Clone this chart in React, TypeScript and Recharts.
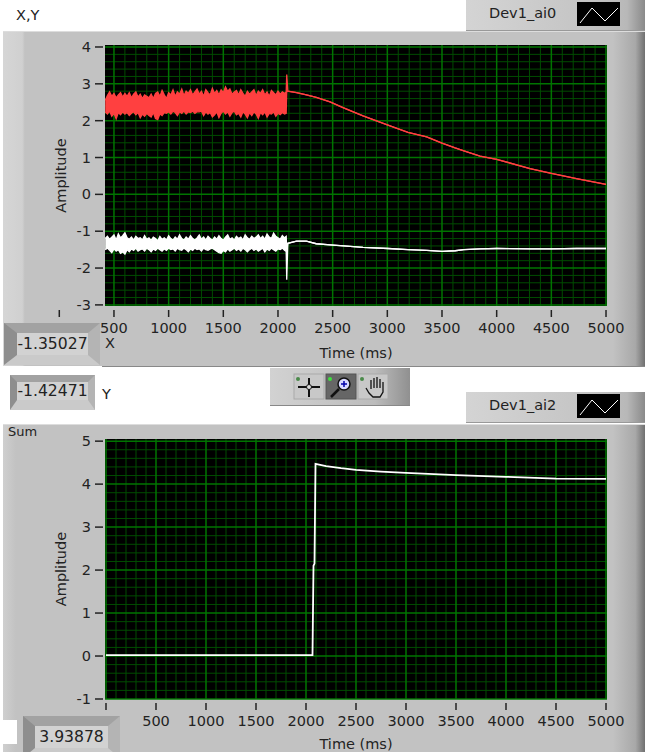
import React from "react";
import {
  ComposedChart,
  Area,
  Line,
  XAxis,
  YAxis,
  CartesianGrid,
} from "recharts";

const FONT = "'DejaVu Sans', sans-serif";
const PANEL = "#c2c2c2";

// top graph (X,Y)
const noiseTimes = [
  420, 440, 460, 480, 500, 520, 540, 560, 580, 600,
  620, 640, 660, 680, 700, 720, 740, 760, 780, 800,
  820, 840, 860, 880, 900, 920, 940, 960, 980, 1000,
  1020, 1040, 1060, 1080, 1100, 1120, 1140, 1160, 1180, 1200,
  1220, 1240, 1260, 1280, 1300, 1320, 1340, 1360, 1380, 1400,
  1420, 1440, 1460, 1480, 1500, 1520, 1540, 1560, 1580, 1600,
  1620, 1640, 1660, 1680, 1700, 1720, 1740, 1760, 1780, 1800,
  1820, 1840, 1860, 1880, 1900, 1920, 1940, 1960, 1980, 2000,
  2020, 2040, 2060,
];
const tailTimes = [
  2075, 2080, 2090, 2170, 2260, 2350, 2476, 2600, 2778, 3006, 3189,
  3360, 3500, 3620, 3700, 3848, 4000, 4305, 4500, 4730, 5000,
];
const redHigh = [
  2.55, 2.68, 2.78, 2.66, 2.74, 2.62, 2.7, 2.76, 2.64, 2.74,
  2.66, 2.76, 2.62, 2.72, 2.78, 2.64, 2.72, 2.6, 2.7, 2.66,
  2.62, 2.72, 2.6, 2.74, 2.78, 2.66, 2.82, 2.7, 2.6, 2.76,
  2.7, 2.84, 2.66, 2.78, 2.72, 2.86, 2.68, 2.8, 2.74, 2.84,
  2.7, 2.78, 2.86, 2.72, 2.8, 2.66, 2.84, 2.76, 2.7, 2.88,
  2.74, 2.82, 2.7, 2.84, 2.76, 2.92, 2.8, 2.86, 2.72, 2.78,
  2.82, 2.7, 2.84, 2.74, 2.66, 2.8, 2.72, 2.78, 2.84, 2.68,
  2.8, 2.74, 2.84, 2.7, 2.78, 2.66, 2.82, 2.76, 2.7, 2.8,
  2.72, 2.78, 2.74,
  2.78, 3.25, 2.8, 2.76, 2.7, 2.63, 2.51, 2.35, 2.13, 1.88, 1.68,
  1.56, 1.39, 1.26, 1.18, 1.04, 0.95, 0.7, 0.57, 0.43, 0.27,
];
const redLow = [
  2.24, 2.18, 2.26, 2.12, 2.2, 2.05, 2.22, 2.16, 2.24, 2.18,
  2.22, 2.14, 2.2, 2.24, 2.16, 2.22, 2.08, 2.18, 2.12, 2.2,
  2.14, 2.1, 2.22, 2.06, 2.03, 2.18, 2.14, 2.22, 2.2, 2.24,
  2.18, 2.26, 2.22, 2.14, 2.24, 2.2, 2.26, 2.18, 2.24, 2.22,
  2.26, 2.2, 2.24, 2.24, 2.26, 2.14, 2.24, 2.18, 2.22, 2.1,
  2.16, 2.24, 2.08, 2.2, 2.26, 2.18, 2.24, 2.12, 2.22, 2.26,
  2.16, 2.2, 2.1, 2.24, 2.18, 2.08, 2.22, 2.14, 2.24, 2.18,
  2.06, 2.22, 2.16, 2.24, 2.1, 2.2, 2.18, 2.24, 2.12, 2.2,
  2.16, 2.22, 2.18,
  2.2, 2.78, 2.8, 2.76, 2.7, 2.63, 2.51, 2.35, 2.13, 1.88, 1.68,
  1.56, 1.39, 1.26, 1.18, 1.04, 0.95, 0.7, 0.57, 0.43, 0.27,
];
const whiteHigh = [
  -1.2, -1.14, -1.22, -1.16, -1.1, -1.24, -1.07, -1.18, -1.12, -1.04,
  -1.18, -1.22, -1.16, -1.24, -1.14, -1.2, -1.18, -1.24, -1.12, -1.22,
  -1.18, -1.25, -1.16, -1.2, -1.26, -1.14, -1.22, -1.18, -1.24, -1.12,
  -1.2, -1.24, -1.16, -1.22, -1.1, -1.2, -1.24, -1.16, -1.22, -1.12,
  -1.2, -1.24, -1.18, -1.1, -1.22, -1.16, -1.24, -1.14, -1.2, -1.24,
  -1.16, -1.22, -1.12, -1.2, -1.24, -1.16, -1.1, -1.22, -1.18, -1.24,
  -1.14, -1.2, -1.16, -1.24, -1.1, -1.18, -1.22, -1.14, -1.2, -1.16,
  -1.1, -1.2, -1.14, -1.22, -1.08, -1.16, -1.2, -1.05, -1.14, -1.18,
  -1.22, -1.12, -1.18,
  -1.14, -1.5, -1.33, -1.27, -1.27, -1.34, -1.37, -1.4, -1.44, -1.47, -1.5,
  -1.52, -1.55, -1.53, -1.5, -1.48, -1.47, -1.48, -1.48, -1.47, -1.47,
];
const whiteLow = [
  -1.5, -1.46, -1.52, -1.58, -1.48, -1.54, -1.5, -1.6, -1.56, -1.62,
  -1.5, -1.56, -1.48, -1.52, -1.46, -1.54, -1.5, -1.48, -1.54, -1.46,
  -1.5, -1.56, -1.48, -1.52, -1.46, -1.5, -1.54, -1.48, -1.52, -1.46,
  -1.5, -1.48, -1.54, -1.46, -1.5, -1.52, -1.46, -1.5, -1.56, -1.48,
  -1.52, -1.46, -1.5, -1.48, -1.54, -1.46, -1.5, -1.52, -1.48, -1.46,
  -1.5, -1.54, -1.58, -1.6, -1.52, -1.56, -1.48, -1.54, -1.5, -1.46,
  -1.52, -1.48, -1.54, -1.46, -1.5, -1.56, -1.5, -1.46, -1.52, -1.48,
  -1.54, -1.5, -1.46, -1.56, -1.48, -1.52, -1.46, -1.5, -1.54, -1.48,
  -1.5, -1.46, -1.52,
  -1.55, -2.32, -1.33, -1.27, -1.27, -1.34, -1.37, -1.4, -1.44, -1.47, -1.5,
  -1.52, -1.55, -1.53, -1.5, -1.48, -1.47, -1.48, -1.48, -1.47, -1.47,
];

// bottom graph (Sum)
const sumTimes = [
  0, 500, 1000, 1500, 2000,
  2065, 2075, 2085, 2095, 2200, 2350, 2500, 2750, 3000, 3500, 4000, 4500, 5000,
];
const sumValues = [
  0.02, 0.02, 0.02, 0.02, 0.02,
  0.02, 2.1, 2.15, 4.47, 4.42, 4.37, 4.33, 4.29, 4.26, 4.21, 4.17, 4.13, 4.12,
];

const topXTicks = [0, 500, 1000, 1500, 2000, 2500, 3000, 3500, 4000, 4500, 5000];
const topYTicks = [4, 3, 2, 1, 0, -1, -2, -3];
const sumYTicks = [5, 4, 3, 2, 1, 0, -1];
const topXMajor = [500, 1000, 1500, 2000, 2500, 3000, 3500, 4000, 4500, 5000];
const sumXMajor = [0, 500, 1000, 1500, 2000, 2500, 3000, 3500, 4000, 4500, 5000];
const topXMinor = [
  600, 700, 800, 900, 1100, 1200, 1300, 1400, 1600, 1700, 1800, 1900,
  2100, 2200, 2300, 2400, 2600, 2700, 2800, 2900, 3100, 3200, 3300, 3400, 3600, 3700,
  3800, 3900, 4100, 4200, 4300, 4400, 4600, 4700, 4800, 4900,
];
const sumXMinor = [100, 200, 300, 400, ...topXMinor];
const topYMinor = [
  3.8, 3.6, 3.4, 3.2, 2.8, 2.6, 2.4, 2.2, 1.8, 1.6, 1.4, 1.2, 0.8, 0.6, 0.4, 0.2,
  -0.2, -0.4, -0.6, -0.8, -1.2, -1.4, -1.6, -1.8, -2.2, -2.4, -2.6, -2.8,
];
const sumYMinor = [
  4.8, 4.6, 4.4, 4.2, 3.8, 3.6, 3.4, 3.2, 2.8, 2.6, 2.4, 2.2, 1.8, 1.6, 1.4, 1.2,
  0.8, 0.6, 0.4, 0.2, -0.2, -0.4, -0.6, -0.8,
];

const topData = [...noiseTimes, ...tailTimes].map((time, i) => ({
  time,
  red: [redLow[i], redHigh[i]],
  white: [whiteLow[i], whiteHigh[i]],
}));
const sumData = sumTimes.map((time, i) => ({ time, sum: sumValues[i] }));

const XTick = ({ x, y, payload }: any) => (
  <g>
    <line x1={x} x2={x} y1={y - 4} y2={y + 3} stroke="#222" strokeWidth={1.5} />
    <text x={x} y={y + 19} textAnchor="middle" fontSize={14.5} fontFamily={FONT} fill="#222">
      {payload.value}
    </text>
  </g>
);

const YTick = ({ x, y, payload }: any) => (
  <g>
    <line x1={x - 2} x2={x + 6} y1={y} y2={y} stroke="#222" strokeWidth={1.5} />
    <text x={x - 6} y={y + 5} textAnchor="end" fontSize={14.5} fontFamily={FONT} fill="#222">
      {payload.value}
    </text>
  </g>
);

const axisLabel = (value: string, extra: object) => ({
  value,
  fontSize: 14.5,
  fontFamily: FONT,
  fill: "#222",
  ...extra,
});

const box = (s: React.CSSProperties): React.CSSProperties => ({ position: "absolute", ...s });

const Legend = ({ name, top }: { name: string; top: number }) => (
  <div
    style={box({
      left: 466,
      top,
      width: 179,
      height: 30,
      background: "linear-gradient(90deg,#d4d4d4,#c4c4c4 70%,#b8b8b8 90%,#8a8a8a)",
      borderBottom: "1px solid #999",
    })}
  >
    <span style={box({ left: 23, top: 5, fontSize: 14.5, fontFamily: FONT, color: "#222" })}>{name}</span>
    <svg width={43} height={24} style={box({ left: 111, top: 2 })}>
      <rect width={43} height={24} fill="#000" />
      <polyline points="3,21 15,6 28,19 41,6" fill="none" stroke="#fff" strokeWidth={1} />
    </svg>
  </div>
);

// bevelled numeric readout
const Readout = ({ text, left, top, width, height, bevel }: { text: string; left: number; top: number; width: number; height: number; bevel: string }) => (
  <div
    style={box({
      left,
      top,
      width,
      height,
      boxSizing: "content-box",
      background: "#d2d2d2",
      borderStyle: "solid",
      borderWidth: bevel,
      borderColor: "#a2a2a2 #b4b4b4 #cacaca #8e8e8e",
      fontSize: 15.6,
      fontFamily: FONT,
      color: "#222",
      textAlign: "center",
      lineHeight: `${height}px`,
    })}
  >
    {text}
  </div>
);

const Toolbar = () => (
  <div
    style={box({
      left: 270,
      top: 368,
      width: 140,
      height: 37,
      background: "linear-gradient(90deg,#d2d2d2,#bcbcbc 75%,#909090)",
      borderBottom: "1px solid #888",
    })}
  >
    <svg width={140} height={37} style={box({ left: 0, top: 0 })}>
      <rect x={24} y={6} width={30} height={25} fill="#c8c8c8" stroke="#aaa" />
      <circle cx={28} cy={11} r={2} fill="#4a8a4a" />
      <line x1={39} x2={39} y1={10} y2={29} stroke="#111" strokeWidth={2} />
      <line x1={28} x2={50} y1={19} y2={19} stroke="#111" strokeWidth={2} />
      <circle cx={39} cy={19} r={2.5} fill="#ddd" stroke="#111" />
      <rect x={56} y={6} width={30} height={25} fill="#666" stroke="#555" />
      <circle cx={60} cy={11} r={2} fill="#3fe03f" />
      <circle cx={74} cy={16} r={6} fill="#d8d8ff" stroke="#111" strokeWidth={1.5} />
      <line x1={71} x2={77} y1={16} y2={16} stroke="#00a" strokeWidth={1.5} />
      <line x1={74} x2={74} y1={13} y2={19} stroke="#00a" strokeWidth={1.5} />
      <line x1={69} x2={61} y1={21} y2={29} stroke="#111" strokeWidth={2.5} />
      <rect x={88} y={6} width={30} height={25} fill="#c8c8c8" stroke="#aaa" />
      <circle cx={92} cy={11} r={2} fill="#4a8a4a" />
      <path
        d="M96 20 L99 25 L103 29 L110 29 L113 24 L113 14 M110 20 L110 11 M107 20 L107 9 M104 20 L104 10 M101 21 L101 12"
        fill="none"
        stroke="#111"
        strokeWidth={1.3}
      />
    </svg>
  </div>
);

export default function App() {
  return (
    <div style={box({ left: 0, top: 0, width: 652, height: 752, background: "#fff", overflow: "hidden" })}>
      {/* panels */}
      <div
        style={box({
          left: 3,
          top: 31,
          width: 642,
          height: 334,
          background: `linear-gradient(90deg,#d6d6d6,#d0d0d0 3%,${PANEL} 3.4%,${PANEL} 95%,#a8a8a8 98.5%,#707070)`,
          borderTop: "1px solid #ddd",
          borderBottom: "1px solid #888",
        })}
      />
      <div
        style={box({
          left: 3,
          top: 424,
          width: 642,
          height: 328,
          background: `linear-gradient(90deg,#cfcfcf,${PANEL} 2%,${PANEL} 95%,#a8a8a8 98.5%,#707070)`,
          borderTop: "1px solid #ddd",
        })}
      />

      {/* top graph */}
      <div style={box({ left: 0, top: 0 })}>
        <ComposedChart width={652} height={365} data={topData} margin={{ top: 45, right: 45, bottom: 0, left: 0 }}>
          <CartesianGrid fill="#000" stroke="#004c00" strokeWidth={1} horizontalValues={topYMinor} verticalValues={topXMinor} syncWithTicks={false} />
          <CartesianGrid fill="none" stroke="#007400" strokeWidth={1.5} horizontalValues={topYTicks} verticalValues={topXMajor} syncWithTicks={false} />
          <XAxis
            dataKey="time"
            type="number"
            domain={[418, 5009]}
            allowDataOverflow
            ticks={topXTicks}
            interval={0}
            height={59}
            axisLine={false}
            tickLine={false}
            tick={XTick}
            label={axisLabel("Time (ms)", { position: "insideBottom", offset: 7 })}
          />
          <YAxis
            type="number"
            domain={[-3.03, 4.054]}
            allowDataOverflow
            ticks={topYTicks}
            interval={0}
            width={105}
            axisLine={false}
            tickLine={false}
            tick={YTick}
            label={axisLabel("Amplitude", { angle: -90, position: "insideLeft", offset: 61, textAnchor: "middle" })}
          />
          <Area dataKey="red" type="linear" stroke="#ff4040" strokeWidth={1.3} fill="#ff4040" fillOpacity={1} dot={false} isAnimationActive={false} />
          <Area dataKey="white" type="linear" stroke="#ffffff" strokeWidth={1.3} fill="#ffffff" fillOpacity={1} dot={false} isAnimationActive={false} />
        </ComposedChart>
      </div>

      {/* bottom graph */}
      <div style={box({ left: 0, top: 424 })}>
        <ComposedChart width={652} height={328} data={sumData} margin={{ top: 15, right: 45, bottom: 0, left: 0 }}>
          <CartesianGrid fill="#000" stroke="#004c00" strokeWidth={1} horizontalValues={sumYMinor} verticalValues={sumXMinor} syncWithTicks={false} />
          <CartesianGrid fill="none" stroke="#007400" strokeWidth={1.5} horizontalValues={sumYTicks} verticalValues={sumXMajor} syncWithTicks={false} />
          <XAxis
            dataKey="time"
            type="number"
            domain={[-10, 5010]}
            allowDataOverflow
            ticks={sumXMajor}
            interval={0}
            height={53}
            axisLine={false}
            tickLine={false}
            tick={XTick}
            label={axisLabel("Time (ms)", { position: "insideBottom", offset: 3 })}
          />
          <YAxis
            type="number"
            domain={[-1, 5.05]}
            allowDataOverflow
            ticks={sumYTicks}
            interval={0}
            width={105}
            axisLine={false}
            tickLine={false}
            tick={YTick}
            label={axisLabel("Amplitude", { angle: -90, position: "insideLeft", offset: 61, textAnchor: "middle" })}
          />
          <Line dataKey="sum" type="linear" stroke="#ffffff" strokeWidth={1.8} dot={false} isAnimationActive={false} />
        </ComposedChart>
      </div>

      {/* front panel bits around the graphs */}
      <span style={box({ left: 16, top: 7, fontSize: 14.5, fontFamily: FONT, color: "#222" })}>X,Y</span>
      <span style={box({ left: 8, top: 424, fontSize: 13, fontFamily: FONT, color: "#222" })}>Sum</span>
      <Legend name="Dev1_ai0" top={0} />
      <Legend name="Dev1_ai2" top={392} />
      <Toolbar />

      <Readout text="-1.35027" left={4} top={323} width={71} height={22} bevel="10px 12px 10px 13px" />
      <span style={box({ left: 105, top: 335, fontSize: 14.5, fontFamily: FONT, color: "#222" })}>X</span>

      <div style={box({ left: 3, top: 366, width: 99, height: 50, background: "#fff" })} />
      <Readout text="-1.42471" left={10} top={375} width={71} height={18} bevel="7px 7px 10px 7px" />
      <span style={box({ left: 102, top: 386, fontSize: 14.5, fontFamily: FONT, color: "#222" })}>Y</span>

      <div style={box({ left: 0, top: 720, width: 17, height: 24, background: "#fff" })} />
      <Readout text="3.93878" left={23} top={716} width={73} height={22} bevel="10px 12px 10px 12px" />
    </div>
  );
}
